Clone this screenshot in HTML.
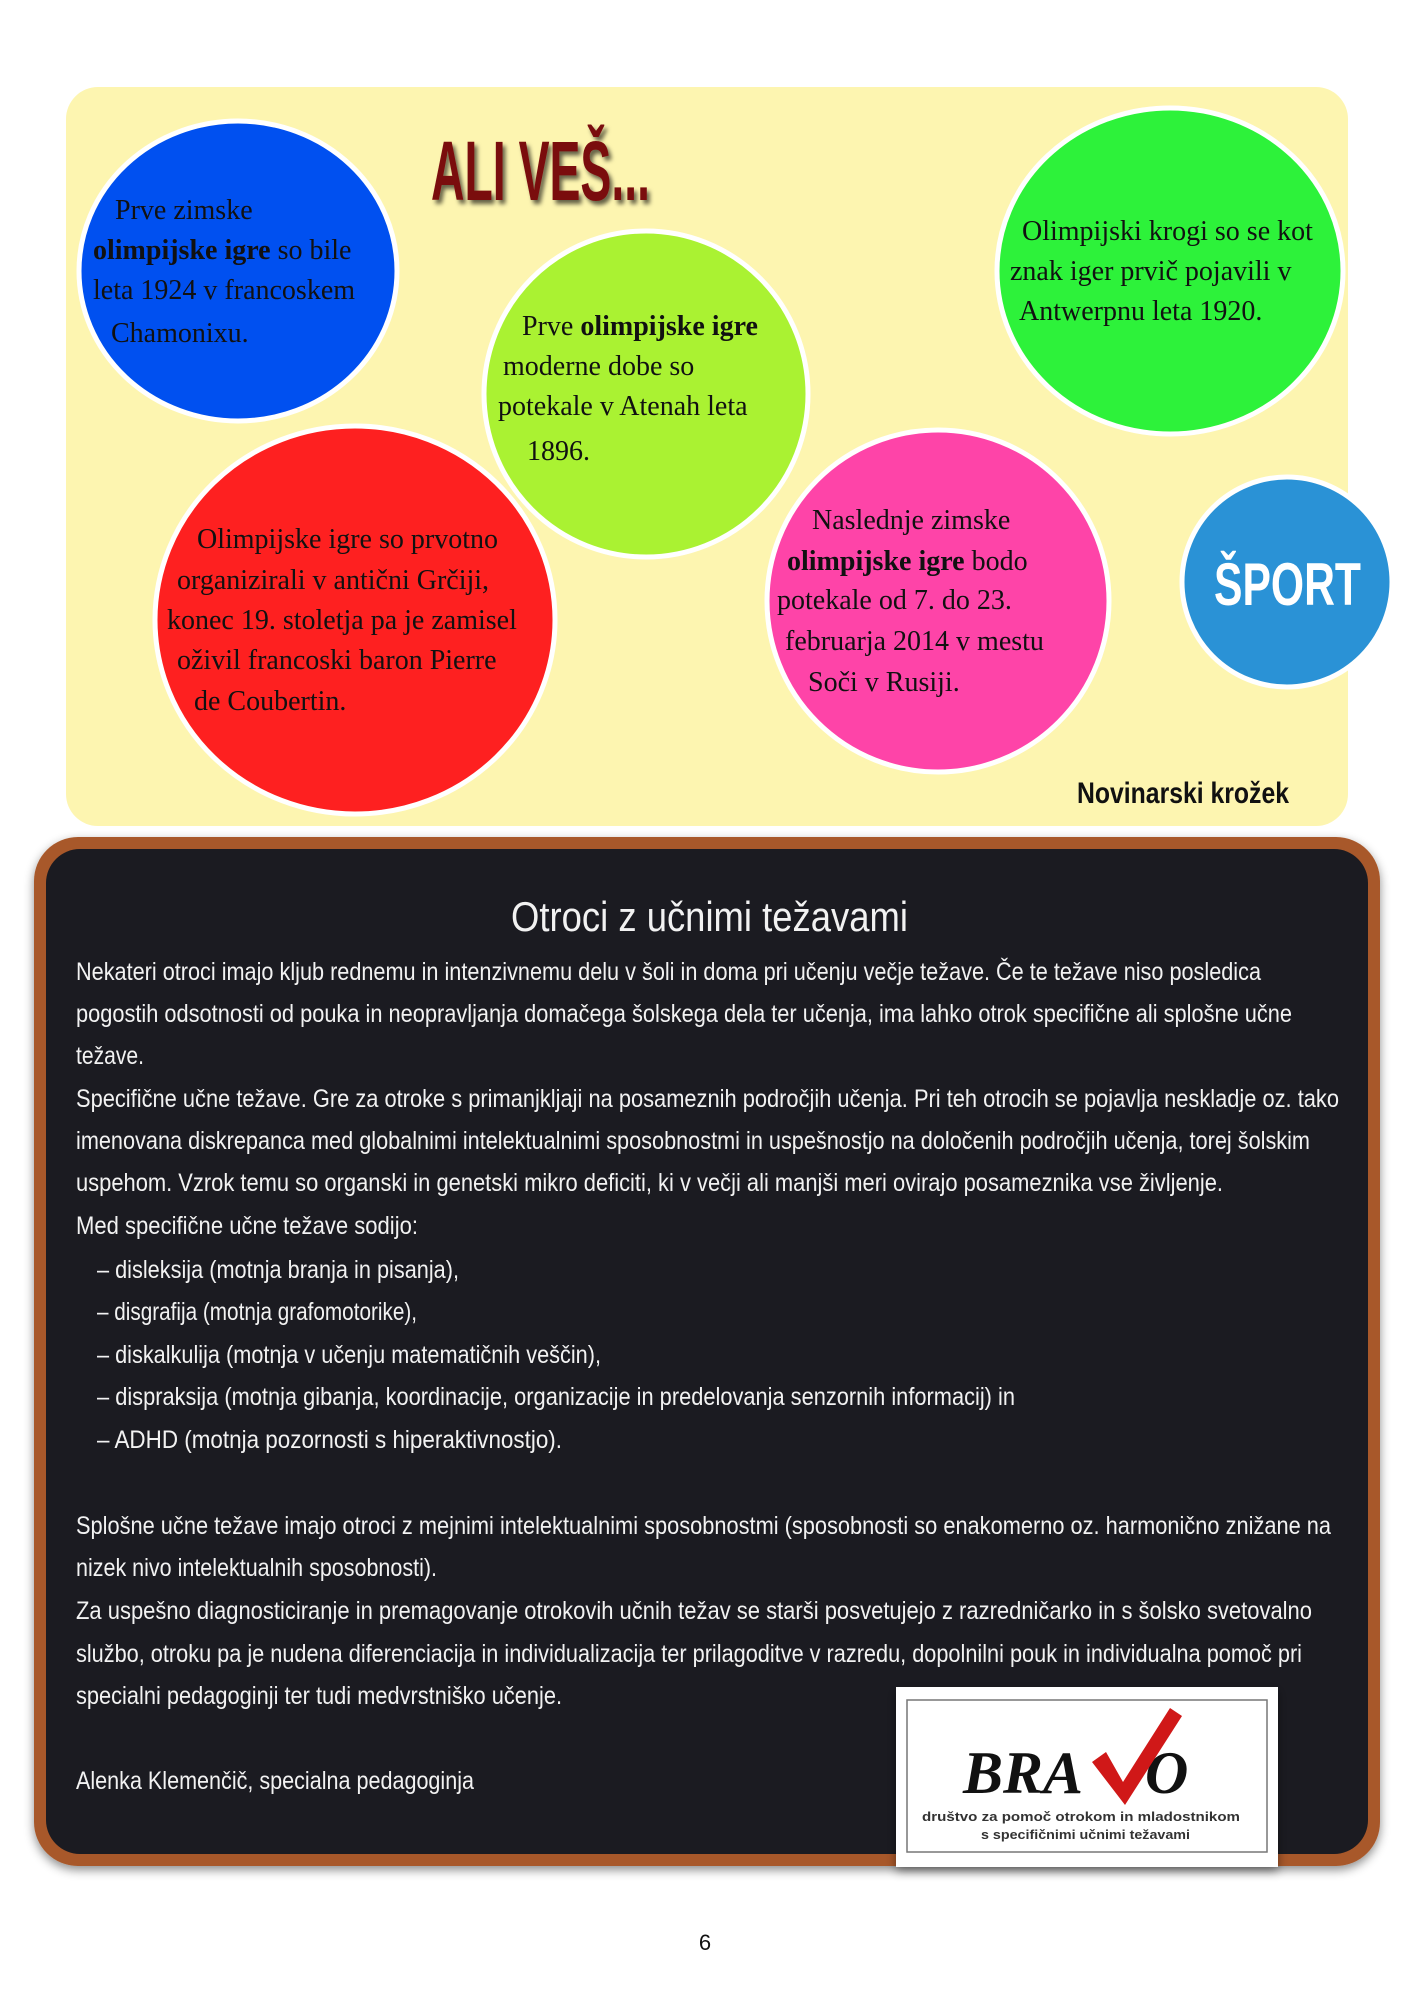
<!DOCTYPE html>
<html><head><meta charset="utf-8"><style>
html,body{margin:0;padding:0;background:#fff;}
svg{display:block;}
.s{font-family:"Liberation Serif",serif;font-size:28px;fill:#111;}
.b{font-family:"Liberation Sans Narrow","Liberation Sans",sans-serif;font-size:25px;fill:#f2f2f2;}
</style></head><body>
<svg width="1414" height="2000" viewBox="0 0 1414 2000" xmlns="http://www.w3.org/2000/svg">
<defs>
<filter id="sh" x="-10%" y="-10%" width="120%" height="120%"><feDropShadow dx="0" dy="4" stdDeviation="5" flood-color="#000" flood-opacity="0.45"/></filter>
<filter id="ts" x="-10%" y="-10%" width="130%" height="140%"><feDropShadow dx="3" dy="4" stdDeviation="2" flood-color="#000" flood-opacity="0.6"/></filter>
</defs>
<rect x="66" y="87" width="1282" height="739" rx="32" fill="#fdf5b0"/>
<ellipse cx="238" cy="271" rx="159" ry="150" fill="#0050f0" stroke="#fff" stroke-width="5"/>
<ellipse cx="355" cy="620" rx="200" ry="194" fill="#fe2020" stroke="#fff" stroke-width="5"/>
<ellipse cx="646" cy="394" rx="162" ry="163" fill="#aaf232" stroke="#fff" stroke-width="5"/>
<ellipse cx="1170" cy="271" rx="173" ry="163" fill="#2df23a" stroke="#fff" stroke-width="5"/>
<ellipse cx="938" cy="601" rx="171" ry="171" fill="#fe44a8" stroke="#fff" stroke-width="5"/>
<circle cx="1287" cy="582" r="105" fill="#2a92d6" stroke="#fff" stroke-width="5"/>
<text x="431" y="200" style="font-family:'Liberation Sans Narrow','Liberation Sans',sans-serif;font-weight:bold;font-size:84px;fill:#7a0c0c" textLength="219" lengthAdjust="spacingAndGlyphs" filter="url(#ts)">ALI VEŠ...</text>
<text x="1214" y="605" style="font-family:'Liberation Sans Narrow','Liberation Sans',sans-serif;font-weight:bold;font-size:60px;fill:#fff" textLength="147" lengthAdjust="spacingAndGlyphs">ŠPORT</text>
<text x="1077" y="803" style="font-family:'Liberation Sans Narrow','Liberation Sans',sans-serif;font-weight:bold;font-size:30px;fill:#111" textLength="212" lengthAdjust="spacingAndGlyphs">Novinarski krožek</text>
<text class="s" x="115" y="219">Prve zimske</text>
<text class="s" x="93" y="259"><tspan font-weight="bold">olimpijske igre</tspan>  so bile</text>
<text class="s" x="93" y="299">leta 1924 v francoskem</text>
<text class="s" x="111" y="342">Chamonixu.</text>
<text class="s" x="522" y="335">Prve <tspan font-weight="bold">olimpijske igre</tspan></text>
<text class="s" x="503" y="375">moderne dobe so</text>
<text class="s" x="498" y="415">potekale v Atenah leta</text>
<text class="s" x="527" y="460">1896.</text>
<text class="s" x="1022" y="240">Olimpijski krogi so se kot</text>
<text class="s" x="1010" y="280">znak iger prvič pojavili v</text>
<text class="s" x="1019" y="320">Antwerpnu leta 1920.</text>
<text class="s" x="197" y="548">Olimpijske igre so prvotno</text>
<text class="s" x="177" y="589">organizirali v antični Grčiji,</text>
<text class="s" x="167" y="629">konec 19. stoletja pa je zamisel</text>
<text class="s" x="177" y="669">oživil francoski baron Pierre</text>
<text class="s" x="194" y="710">de Coubertin.</text>
<text class="s" x="812" y="529">Naslednje zimske</text>
<text class="s" x="787" y="570"><tspan font-weight="bold">olimpijske igre</tspan> bodo</text>
<text class="s" x="777" y="609">potekale od 7. do 23.</text>
<text class="s" x="785" y="650">februarja 2014 v mestu</text>
<text class="s" x="808" y="691">Soči v Rusiji.</text>
<rect x="34" y="837" width="1346" height="1029" rx="44" fill="#a8592a" filter="url(#sh)"/>
<rect x="46" y="849" width="1322" height="1005" rx="34" fill="#1b1b21"/>
<text class="b" x="511" y="931" style="font-size:42px" textLength="397" lengthAdjust="spacingAndGlyphs">Otroci z učnimi težavami</text>
<text class="b" x="76" y="980" textLength="1185" lengthAdjust="spacingAndGlyphs">Nekateri otroci imajo kljub rednemu in intenzivnemu delu v šoli in doma pri učenju večje težave. Če te težave niso posledica</text>
<text class="b" x="76" y="1022" textLength="1216" lengthAdjust="spacingAndGlyphs">pogostih odsotnosti od pouka in neopravljanja domačega šolskega dela ter učenja, ima lahko otrok specifične ali splošne učne</text>
<text class="b" x="76" y="1064" textLength="68" lengthAdjust="spacingAndGlyphs">težave.</text>
<text class="b" x="76" y="1107" textLength="1263" lengthAdjust="spacingAndGlyphs">Specifične učne težave. Gre za otroke s primanjkljaji na posameznih področjih učenja. Pri teh otrocih se pojavlja neskladje oz. tako</text>
<text class="b" x="76" y="1149" textLength="1234" lengthAdjust="spacingAndGlyphs">imenovana diskrepanca med globalnimi intelektualnimi sposobnostmi in uspešnostjo na določenih področjih učenja, torej šolskim</text>
<text class="b" x="76" y="1191" textLength="1147" lengthAdjust="spacingAndGlyphs">uspehom. Vzrok temu so organski in genetski mikro deficiti, ki v večji ali manjši meri ovirajo posameznika vse življenje.</text>
<text class="b" x="76" y="1234" textLength="342" lengthAdjust="spacingAndGlyphs">Med specifične učne težave sodijo:</text>
<text class="b" x="97" y="1278" textLength="362" lengthAdjust="spacingAndGlyphs">– disleksija (motnja branja in pisanja),</text>
<text class="b" x="97" y="1320" textLength="320" lengthAdjust="spacingAndGlyphs">– disgrafija (motnja grafomotorike),</text>
<text class="b" x="97" y="1363" textLength="504" lengthAdjust="spacingAndGlyphs">– diskalkulija (motnja v učenju matematičnih veščin),</text>
<text class="b" x="97" y="1405" textLength="918" lengthAdjust="spacingAndGlyphs">– dispraksija (motnja gibanja, koordinacije, organizacije in predelovanja senzornih informacij) in</text>
<text class="b" x="97" y="1448" textLength="465" lengthAdjust="spacingAndGlyphs">– ADHD (motnja pozornosti s hiperaktivnostjo).</text>
<text class="b" x="76" y="1534" textLength="1255" lengthAdjust="spacingAndGlyphs">Splošne učne težave imajo otroci z mejnimi intelektualnimi sposobnostmi (sposobnosti so enakomerno oz. harmonično znižane na</text>
<text class="b" x="76" y="1576" textLength="361" lengthAdjust="spacingAndGlyphs">nizek nivo intelektualnih sposobnosti).</text>
<text class="b" x="76" y="1619" textLength="1236" lengthAdjust="spacingAndGlyphs">Za uspešno diagnosticiranje in premagovanje otrokovih učnih težav se starši posvetujejo z razredničarko in s šolsko svetovalno</text>
<text class="b" x="76" y="1662" textLength="1226" lengthAdjust="spacingAndGlyphs">službo, otroku pa je nudena diferenciacija in individualizacija ter prilagoditve v razredu, dopolnilni pouk in individualna pomoč pri</text>
<text class="b" x="76" y="1704" textLength="486" lengthAdjust="spacingAndGlyphs">specialni pedagoginji ter tudi medvrstniško učenje.</text>
<text class="b" x="76" y="1789" textLength="398" lengthAdjust="spacingAndGlyphs">Alenka Klemenčič, specialna pedagoginja</text>
<rect x="896" y="1687" width="382" height="180" fill="#fff" filter="url(#sh)"/>
<rect x="907" y="1700" width="360" height="152" fill="none" stroke="#777" stroke-width="1.5"/>
<text x="963" y="1793" font-family="Liberation Serif,serif" font-style="italic" font-weight="bold" font-size="60" fill="#111" textLength="120" lengthAdjust="spacingAndGlyphs">BRA</text>
<text x="1145" y="1793" font-family="Liberation Serif,serif" font-style="italic" font-weight="bold" font-size="60" fill="#111">O</text>
<path d="M1092 1762 L1106 1752 L1123 1782 L1170 1708 L1182 1716 L1125 1805 Z" fill="#d01818"/>
<text x="922" y="1821" font-family="Liberation Sans,sans-serif" font-weight="bold" font-size="12.5" fill="#333" textLength="318" lengthAdjust="spacingAndGlyphs">društvo za pomoč otrokom in mladostnikom</text>
<text x="981" y="1839" font-family="Liberation Sans,sans-serif" font-weight="bold" font-size="12.5" fill="#333" textLength="209" lengthAdjust="spacingAndGlyphs">s specifičnimi učnimi težavami</text>
<text x="705" y="1950" font-family="Liberation Sans,sans-serif" font-size="22" fill="#111" text-anchor="middle">6</text>
</svg>
</body></html>
